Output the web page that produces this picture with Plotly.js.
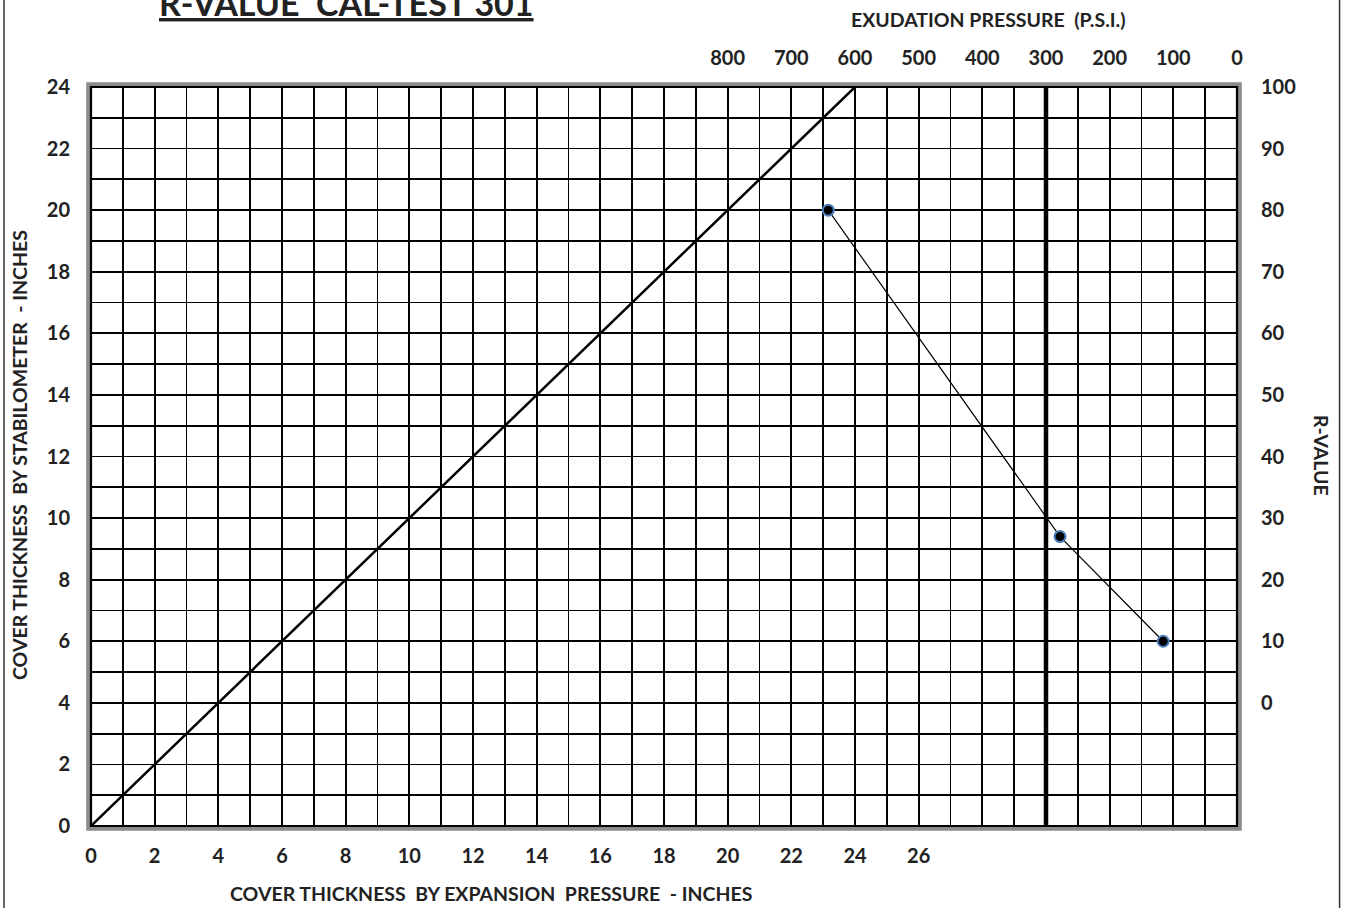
<!DOCTYPE html>
<html>
<head>
<meta charset="utf-8">
<script src="https://cdn.plot.ly/plotly-3.0.1.min.js"></script>
<style>html,body{margin:0;padding:0;background:#fff;}#chart{width:1346px;height:908px;}</style>
</head>
<body>
<div id="chart"></div>
<script>
// ---- data ----
var exudationPressure = [642, 278, 116];   // psi (top axis)
var rValue = [80, 27, 10];                  // R-value (right axis)
var diagonalX = [0, 24];                    // cover thickness by expansion pressure
var diagonalY = [0, 24];                    // cover thickness by stabilometer
var limitPressure = [300, 300];             // exudation pressure limit line
var limitR = [-20, 100];

var thicknessTicks = [];      // 0..36 inches (grid every inch)
var bottomTickText = [];
for (var i = 0; i <= 36; i++) { thicknessTicks.push(i); bottomTickText.push(i % 2 === 0 && i <= 26 ? String(i) : ''); }
var stabTicks = [];
var leftTickText = [];
for (var j = 0; j <= 24; j++) { stabTicks.push(j); leftTickText.push(j % 2 === 0 ? String(j) : ''); }
var pressureTicks = [0, 100, 200, 300, 400, 500, 600, 700, 800];
var rTicks = [0, 10, 20, 30, 40, 50, 60, 70, 80, 90, 100];

var FONT = 'Lato, "Open Sans", sans-serif';
var tickFont = {family: FONT, size: 20, color: '#222', weight: 'bold'};
var titleFont = {family: FONT, size: 19.5, color: '#222', weight: 'bold'};

var traces = [
  {x: diagonalX, y: diagonalY, xaxis: 'x', yaxis: 'y', mode: 'lines',
   line: {color: '#000', width: 2.5}, hoverinfo: 'skip', showlegend: false},
  {x: limitPressure, y: limitR, xaxis: 'x2', yaxis: 'y2', mode: 'lines',
   line: {color: '#000', width: 4.5}, hoverinfo: 'skip', showlegend: false},
  {x: exudationPressure, y: rValue, xaxis: 'x2', yaxis: 'y2', mode: 'lines+markers',
   line: {color: '#000', width: 1.2},
   marker: {size: 11, color: '#000', line: {color: '#4a7ebb', width: 2}}, showlegend: false}
];

var layout = {
  width: 1346, height: 908,
  margin: {l: 91, r: 109, t: 87, b: 82},
  paper_bgcolor: '#fff', plot_bgcolor: '#fff',
  showlegend: false,
  font: {family: FONT, color: '#222'},
  xaxis: {range: [0, 36], tickmode: 'array', tickvals: thicknessTicks, ticktext: bottomTickText,
    showgrid: true, gridcolor: '#000', gridwidth: 1.8, zeroline: false, showline: false,
    ticks: '', tickfont: tickFont, ticklabelstandoff: 16, fixedrange: true},
  yaxis: {range: [0, 24], tickmode: 'array', tickvals: stabTicks, ticktext: leftTickText,
    showgrid: true, gridcolor: '#000', gridwidth: 1.8, zeroline: false, showline: false,
    ticks: '', tickfont: tickFont, ticklabelstandoff: 20, fixedrange: true},
  xaxis2: {range: [1800, 0], overlaying: 'x', side: 'top', tickmode: 'array', tickvals: pressureTicks,
    showgrid: false, zeroline: false, showline: false, ticks: '', tickfont: tickFont,
    ticklabelstandoff: 17, fixedrange: true},
  yaxis2: {range: [-20, 100], overlaying: 'y', side: 'right', tickmode: 'array', tickvals: rTicks,
    showgrid: false, zeroline: false, showline: false, ticks: '', tickfont: tickFont,
    ticklabelstandoff: 23, fixedrange: true},
  shapes: [
    {type: 'rect', xref: 'paper', yref: 'paper', x0: -0.002, x1: 1.002, y0: -0.003, y1: 1.003,
     line: {color: '#8c8c8c', width: 5}},
    {type: 'rect', xref: 'paper', yref: 'paper', x0: 0, x1: 1, y0: 0, y1: 1,
     line: {color: '#000', width: 2.2}},
    {type: 'line', xref: 'paper', yref: 'paper', x0: -0.0759, x1: -0.0759, y0: -0.2, y1: 1.3,
     line: {color: '#333', width: 1.5}},
    {type: 'line', xref: 'paper', yref: 'paper', x0: 1.0895, x1: 1.0895, y0: -0.2, y1: 1.3,
     line: {color: '#333', width: 1.5}}
  ],
  annotations: [
    {text: '<u>R-VALUE  CAL-TEST 301</u>', xref: 'paper', yref: 'paper',
     x: (346 - 91) / 1146, y: (826 - 2) / 739, xanchor: 'center', yanchor: 'middle', showarrow: false,
     font: {family: FONT, size: 34, color: '#222', weight: 'bold'}},
    {text: 'EXUDATION PRESSURE  (P.S.I.)', xref: 'paper', yref: 'paper',
     x: (988 - 91) / 1146, y: (826 - 20) / 739, xanchor: 'center', yanchor: 'middle', showarrow: false,
     font: titleFont},
    {text: 'COVER THICKNESS  BY EXPANSION  PRESSURE  - INCHES', xref: 'paper', yref: 'paper',
     x: (491 - 91) / 1146, y: (826 - 893) / 739, xanchor: 'center', yanchor: 'middle', showarrow: false,
     font: titleFont},
    {text: 'COVER THICKNESS  BY STABILOMETER  - INCHES', xref: 'paper', yref: 'paper',
     x: (19 - 91) / 1146, y: (826 - 455) / 739, xanchor: 'center', yanchor: 'middle', showarrow: false,
     textangle: -90, font: titleFont},
    {text: 'R-VALUE', xref: 'paper', yref: 'paper',
     x: (1322 - 91) / 1146, y: (826 - 455) / 739, xanchor: 'center', yanchor: 'middle', showarrow: false,
     textangle: 90, font: titleFont}
  ]
};

Plotly.newPlot('chart', traces, layout, {displayModeBar: false, staticPlot: true});
</script>
</body>
</html>
